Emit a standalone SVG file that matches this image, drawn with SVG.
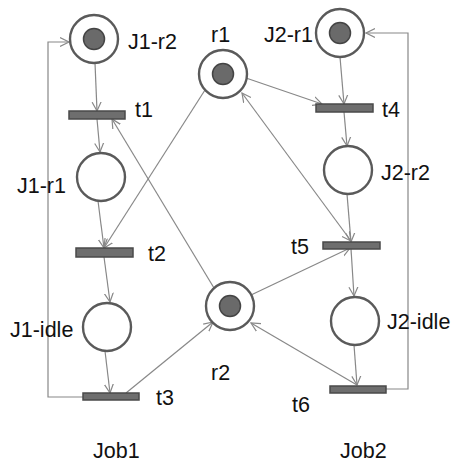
<svg xmlns="http://www.w3.org/2000/svg" width="458" height="465" viewBox="0 0 458 465">
<defs>
<marker id="arr" markerUnits="userSpaceOnUse" markerWidth="12" markerHeight="12" refX="9" refY="5" orient="auto-start-reverse" viewBox="0 0 12 10">
<path d="M0,0.5 L9,5 L0,9.5" fill="none" stroke="#888" stroke-width="1.2"/>
</marker>
</defs>
<style>
.place{fill:#fff;stroke:#5a5a5a;stroke-width:2.4}
.token{fill:#6a6a6a;stroke:#444;stroke-width:1.5}
.trans{fill:#6e6e6e;stroke:#4a4a4a;stroke-width:1.5}
.lbl{font-family:"Liberation Sans",Arial,sans-serif;font-size:21.5px;fill:#111}
.arc{fill:none;stroke:#888;stroke-width:1.2}
.a{marker-end:url(#arr)}
.b{marker-start:url(#arr);marker-end:url(#arr)}
</style>
<rect width="458" height="465" fill="#fff"/>
<g id="connectors">
<polyline class="arc a" points="83,397 48,397 48,42 69,42"/>
<polyline class="arc a" points="386,389 408,389 408,33 366,33"/>
<line class="arc a" x1="95" y1="63" x2="97" y2="111"/>
<line class="arc a" x1="97" y1="119" x2="100" y2="152"/>
<line class="arc a" x1="98" y1="201" x2="104" y2="248"/>
<line class="arc a" x1="104" y1="257" x2="110" y2="302"/>
<line class="arc a" x1="105" y1="351" x2="110" y2="393"/>
<line class="arc a" x1="126" y1="393" x2="213" y2="322"/>
<line class="arc a" x1="205" y1="90" x2="104" y2="248"/>
<line class="arc a" x1="214" y1="288" x2="112" y2="119"/>
<line class="arc a" x1="246" y1="78" x2="322" y2="104"/>
<line class="arc a" x1="340" y1="57" x2="344" y2="104"/>
<line class="arc a" x1="344" y1="112" x2="347" y2="146"/>
<line class="arc a" x1="347" y1="194" x2="351" y2="242"/>
<line class="arc a" x1="351" y1="249" x2="354" y2="296"/>
<line class="arc a" x1="354" y1="345" x2="357" y2="385"/>
<line class="arc b" x1="242" y1="93" x2="351" y2="241"/>
<line class="arc a" x1="251" y1="295" x2="350" y2="248"/>
<line class="arc a" x1="357" y1="385" x2="251" y2="323"/>
</g>
<g id="J1-r2"><circle class="place" cx="94" cy="39" r="24"/><circle class="token" cx="94" cy="39" r="10.5"/><text class="lbl" x="128" y="49">J1-r2</text></g>
<g id="t1"><rect class="trans" x="69" y="111" width="56" height="8"/><text class="lbl" x="135" y="117">t1</text></g>
<g id="J1-r1"><circle class="place" cx="101" cy="177" r="24"/><text class="lbl" x="17" y="193">J1-r1</text></g>
<g id="t2"><rect class="trans" x="76" y="248" width="57" height="9"/><text class="lbl" x="148" y="261">t2</text></g>
<g id="J1-idle"><circle class="place" cx="107" cy="327" r="24"/><text class="lbl" x="10" y="337">J1-idle</text></g>
<g id="t3"><rect class="trans" x="83" y="393" width="56" height="7"/><text class="lbl" x="156" y="405">t3</text></g>
<g id="r1"><circle class="place" cx="223" cy="74" r="24"/><circle class="token" cx="223" cy="74" r="10.5"/><text class="lbl" x="211" y="42">r1</text></g>
<g id="r2"><circle class="place" cx="230" cy="306" r="24"/><circle class="token" cx="230" cy="306" r="10.5"/><text class="lbl" x="211" y="380">r2</text></g>
<g id="J2-r1"><circle class="place" cx="340" cy="33" r="24"/><circle class="token" cx="340" cy="33" r="10.5"/><text class="lbl" x="264" y="42">J2-r1</text></g>
<g id="t4"><rect class="trans" x="316" y="104" width="57" height="8"/><text class="lbl" x="382" y="117">t4</text></g>
<g id="J2-r2"><circle class="place" cx="348" cy="170" r="24"/><text class="lbl" x="381" y="180">J2-r2</text></g>
<g id="t5"><rect class="trans" x="323" y="242" width="57" height="7"/><text class="lbl" x="291" y="254">t5</text></g>
<g id="J2-idle"><circle class="place" cx="355" cy="321" r="24"/><text class="lbl" x="387" y="329">J2-idle</text></g>
<g id="t6"><rect class="trans" x="330" y="386" width="56" height="7"/><text class="lbl" x="292" y="412">t6</text></g>
<text class="lbl" x="93" y="458">Job1</text>
<text class="lbl" x="340" y="458">Job2</text>
</svg>
